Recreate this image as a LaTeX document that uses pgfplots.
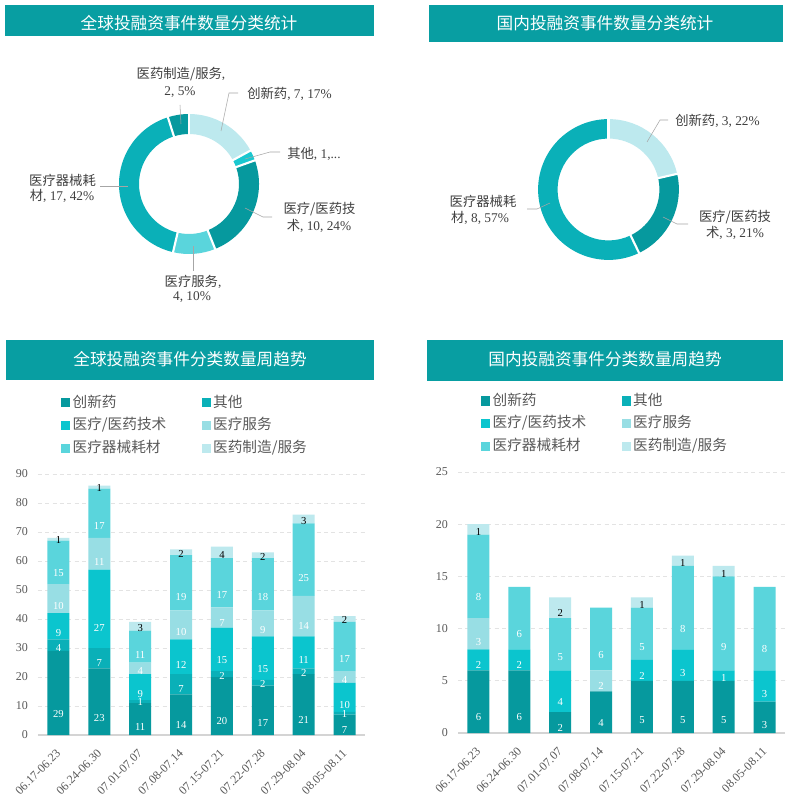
\documentclass[border=0pt]{standalone}
\usepackage{fontspec}
\setmainfont{Liberation Serif}
\newfontfamily\cjk{Noto Sans CJK SC}
\usepackage{pgfplots}
\pgfplotsset{compat=1.18}
\usepackage{pgfplotstable}

\definecolor{hdr}{HTML}{089EA2}
\definecolor{cA}{HTML}{06999E}
\definecolor{cB}{HTML}{0AB0B8}
\definecolor{cC}{HTML}{0BC5CE}
\definecolor{cD}{HTML}{98DEE4}
\definecolor{cE}{HTML}{5AD5DC}
\definecolor{cF}{HTML}{BDE9EE}
\definecolor{cO}{HTML}{1AC8D0}
\definecolor{txt}{HTML}{404040}
\definecolor{tickc}{HTML}{595959}
\definecolor{lead}{HTML}{A6A6A6}
\definecolor{gridc}{HTML}{E3E3E3}
\definecolor{axisc}{HTML}{D4D4D4}

% a 创新药, b 其他, c 医疗/医药技术, d 医疗服务, e 医疗器械耗材, f 医药制造/服务
\pgfplotstableread{
x a b c d e f
0 29 4 9 10 15 1
1 23 7 27 11 17 1
2 11 1 9 4 11 3
3 14 7 12 10 19 2
4 20 2 15 7 17 4
5 17 2 15 9 18 2
6 21 2 11 14 25 3
7 7 1 10 4 17 2
}\gdata

\pgfplotstableread{
x a b c d e f
0 6 0 2 3 8 1
1 6 0 2 0 6 0
2 2 0 4 0 5 2
3 4 0 0 2 6 0
4 5 0 2 0 5 1
5 5 0 3 0 8 1
6 5 0 1 0 9 1
7 3 0 3 0 8 0
}\ddata

% donut from value/colour pairs, clockwise from the top
\newcommand\donut[3]{%
  \gdef\dtot{0}%
  \foreach \v/\c in {#3}{\pgfmathparse{\dtot+\v}\xdef\dtot{\pgfmathresult}}%
  \gdef\dang{90}%
  \foreach \v/\c in {#3}{%
    \pgfmathsetmacro\aend{\dang-360*\v/\dtot}%
    \fill[fill=\c] ([shift={(\dang:#1)}]axis cs:0,0) arc[start angle=\dang,end angle=\aend,radius=#1]
      -- ([shift={(\aend:#2)}]axis cs:0,0) arc[start angle=\aend,end angle=\dang,radius=#2] -- cycle;
    \xdef\dang{\aend}%
  }%
  \gdef\dang{90}%
  \foreach \v/\c in {#3}{%
    \pgfmathsetmacro\aend{\dang-360*\v/\dtot}%
    \draw[white,line width=1.6pt] ([shift={(\dang:30pt)}]axis cs:0,0) -- ([shift={(\dang:56pt)}]axis cs:0,0);
    \xdef\dang{\aend}%
  }%
}

\pgfplotsset{
  pie/.style={hide axis, scale only axis, width=20pt, height=20pt, clip=false,
    xmin=-1, xmax=1, ymin=-1, ymax=1, anchor=center},
  weekly/.style={
    scale only axis, width=245.25pt, height=195.75pt,
    ybar stacked, bar width=16.5pt,
    xmin=-0.5, xmax=7.5, ymin=0,
    xtick={0,...,7},
    xticklabels={06.17-06.23,06.24-06.30,07.01-07.07,07.08-07.14,07.15-07.21,07.22-07.28,07.29-08.04,08.05-08.11},
    axis lines*=left,
    y axis line style={draw=none},
    x axis line style={draw=axisc, line width=0.8pt},
    major tick length=0pt,
    ymajorgrids,
    grid style={draw=gridc, dash pattern=on 3pt off 2.5pt, line width=0.6pt},
    tick label style={font=\fontsize{9}{10}\selectfont, text=tickc},
    /pgf/number format/assume math mode=true,
    yticklabel style={xshift=-4pt},
    xticklabel style={xshift=2.5pt, yshift=-10pt, rotate=45, anchor=east},
    point meta=explicit symbolic,
    nodes near coords={\ifnum\pgfplotspointmeta=0 \else\pgfplotspointmeta\fi},
    nodes near coords align=center,
    every node near coord/.append style={font=\fontsize{8}{9}\selectfont, text=white,
      inner sep=0pt, anchor=center, yshift=-\pgfplotspointmeta*\halfu},
    legend columns=2,
    legend style={draw=none, fill=none, at={(rel axis cs:0.07,1.31)}, anchor=north west,
      font=\cjk\fontsize{11}{12}\selectfont, text=tickc, inner sep=0pt, row sep=2.6pt,
      nodes={inner sep=1.8pt, text height=8.6pt, text depth=2.2pt}},
    legend cell align=left,
    every axis plot post/.append style={legend image code/.code={\fill[##1] (0pt,-3.4pt) rectangle (6.8pt,3.4pt);}},
  },
}

\begin{document}
\begin{tikzpicture}[x=0.75pt,y=-0.75pt]
\fill[white] (0,0) rectangle (789,809);
\path[use as bounding box] (0,0) rectangle (789,809);
\coordinate (pieG) at (189,184);
\coordinate (pieD) at (608.5,189.5);
\coordinate (barG) at (38,735);
\coordinate (barD) at (458,733);

% title bars
\fill[hdr] (5,5) rectangle (374,36);
\fill[hdr] (429,5) rectangle (783,42);
\fill[hdr] (6,340) rectangle (374,380);
\fill[hdr] (427,340) rectangle (783,381);
\begin{scope}[every node/.style={text=white, font=\cjk\fontsize{12.5}{14}\selectfont}]
\node at (189,23) {全球投融资事件数量分类统计};
\node at (605,23) {国内投融资事件数量分类统计};
\node at (190,359) {全球投融资事件分类数量周趋势};
\node at (605,359) {国内投融资事件分类数量周趋势};
\end{scope}

% global donut
\begin{axis}[pie, at={(pieG)}]
\pgfplotsextra{\donut{52.5pt}{37.5pt}{7/cF,1/cO,10/cA,4/cE,17/cB,2/cA}}
\end{axis}
% domestic donut
\begin{axis}[pie, at={(pieD)}]
\pgfplotsextra{\donut{52.8pt}{38.2pt}{3/cF,3/cA,8/cB}}
\end{axis}

% donut labels
\begin{scope}[every node/.style={text=txt, font=\fontsize{10}{12}\selectfont, inner sep=0pt}]
\draw[lead] (180,105) -- (181,124);
\node at (181,74) {{\cjk 医药制造/服务},};
\node at (180,92) {2, 5\%};
\draw[lead] (221,131) -- (229,93) -- (238,93);
\node[anchor=west] at (247,94) {{\cjk 创新药}, 7, 17\%};
\draw[lead] (245,159) -- (270,152) -- (280,152);
\node[anchor=west] at (287,154) {{\cjk 其他}, 1,...};
\draw[lead] (245,208) -- (263,217) -- (272,217);
\node at (319.5,209) {{\cjk 医疗/医药技}};
\node at (319,226) {{\cjk 术}, 10, 24\%};
\draw[lead] (193,246) -- (193,271);
\node at (193,282) {{\cjk 医疗服务},};
\node at (192,297) {4, 10\%};
\draw[lead] (100,186) -- (128,186);
\node at (62.5,180) {{\cjk 医疗器械耗}};
\node at (62,196) {{\cjk 材}, 17, 42\%};

\draw[lead] (647,142) -- (660,120) -- (668,120);
\node[anchor=west] at (675,121) {{\cjk 创新药}, 3, 22\%};
\draw[lead] (527,209) -- (537,209) -- (550,203);
\node at (483,201) {{\cjk 医疗器械耗}};
\node at (480,218) {{\cjk 材}, 8, 57\%};
\draw[lead] (663,217) -- (677,224) -- (688,224);
\node at (735,217) {{\cjk 医疗/医药技}};
\node at (735,233) {{\cjk 术}, 3, 21\%};
\end{scope}

% global weekly stacked bars (label shift: the shift is applied twice, so a quarter unit)
\def\halfu{0.54375pt}
\begin{axis}[weekly, at={(barG)}, anchor=south west, ymax=90, ytick={0,10,...,90}]
\addplot[fill=cA, draw=none] table[x=x,y=a,meta=a]{\gdata};
\addplot[fill=cB, draw=none] table[x=x,y=b,meta=b]{\gdata};
\addplot[fill=cC, draw=none] table[x=x,y=c,meta=c]{\gdata};
\addplot[fill=cD, draw=none] table[x=x,y=d,meta=d]{\gdata};
\addplot[fill=cE, draw=none] table[x=x,y=e,meta=e]{\gdata};
\addplot[fill=cF, draw=none, every node near coord/.append style={text=black}] table[x=x,y=f,meta=f]{\gdata};
\legend{\makebox[95pt][l]{创新药},其他,\makebox[95pt][l]{医疗/医药技术},医疗服务,\makebox[95pt][l]{医疗器械耗材},医药制造/服务}
\end{axis}

% domestic weekly stacked bars
\def\halfu{1.9575pt}
\begin{axis}[weekly, at={(barD)}, anchor=south west, ymax=25, ytick={0,5,...,25}]
\addplot[fill=cA, draw=none] table[x=x,y=a,meta=a]{\ddata};
\addplot[fill=cB, draw=none] table[x=x,y=b,meta=b]{\ddata};
\addplot[fill=cC, draw=none] table[x=x,y=c,meta=c]{\ddata};
\addplot[fill=cD, draw=none] table[x=x,y=d,meta=d]{\ddata};
\addplot[fill=cE, draw=none] table[x=x,y=e,meta=e]{\ddata};
\addplot[fill=cF, draw=none, every node near coord/.append style={text=black}] table[x=x,y=f,meta=f]{\ddata};
\legend{\makebox[95pt][l]{创新药},其他,\makebox[95pt][l]{医疗/医药技术},医疗服务,\makebox[95pt][l]{医疗器械耗材},医药制造/服务}
\end{axis}
\end{tikzpicture}
\end{document}
